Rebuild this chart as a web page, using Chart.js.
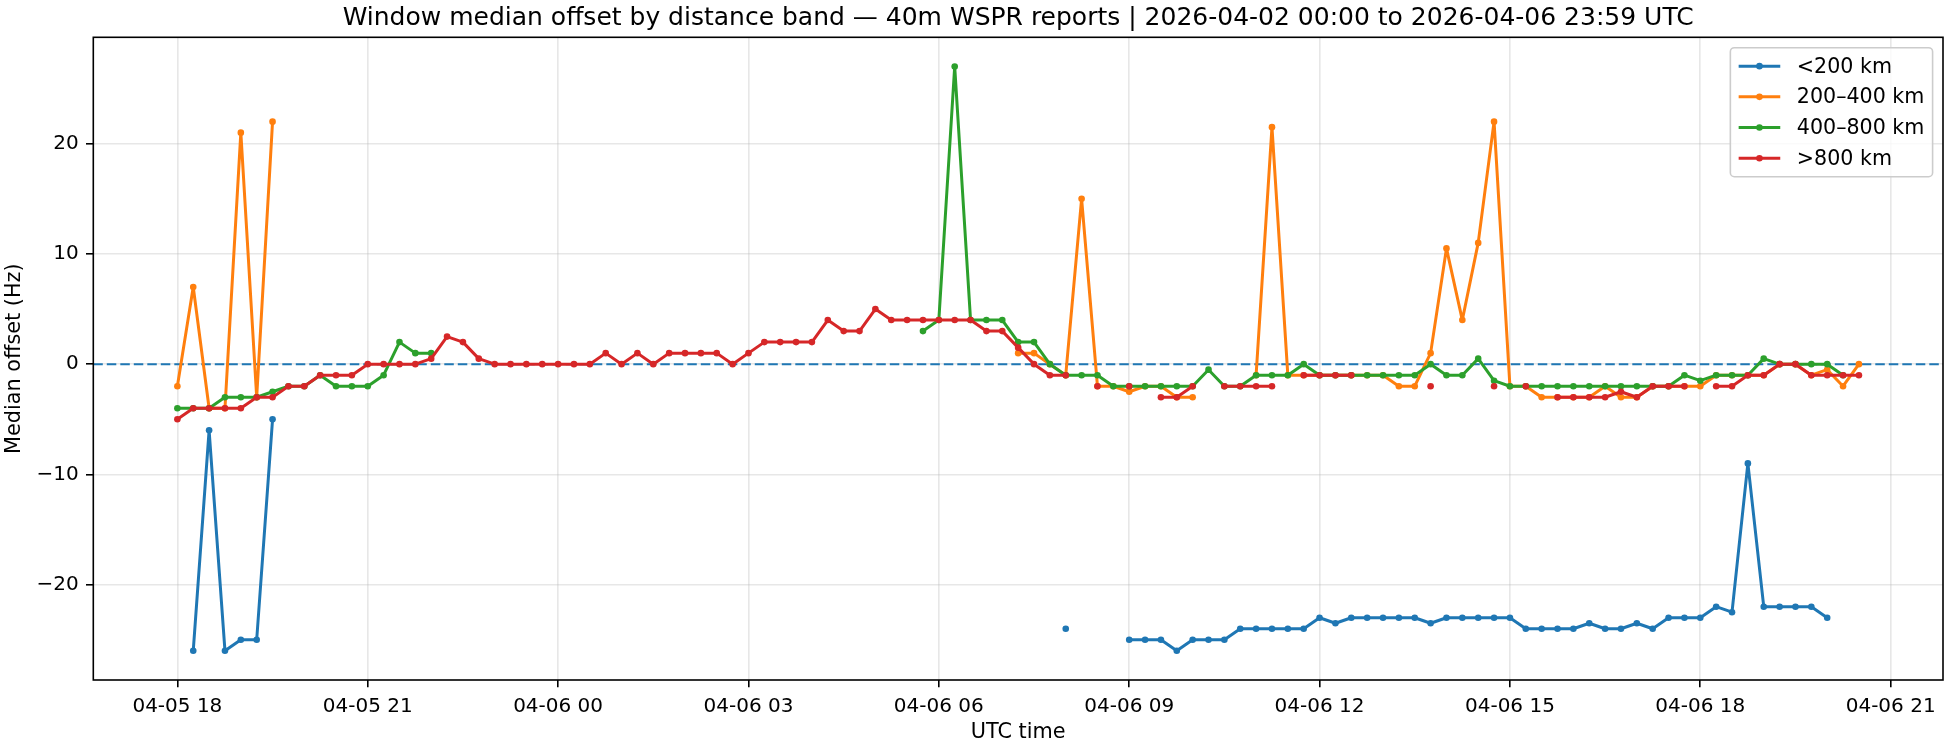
<!DOCTYPE html>
<html>
<head>
<meta charset="utf-8">
<title>Window median offset by distance band</title>
<script src="https://cdn.jsdelivr.net/npm/chart.js@4.4.1/dist/chart.umd.min.js"></script>
<style>
  html, body { margin: 0; padding: 0; background: #fff; }
  #wrap { width: 1950px; height: 750px; }
</style>
</head>
<body>
<div id="wrap"><canvas id="offsetChart" width="1950" height="750"></canvas></div>
<script>
// 15 minute windows starting 04-05 18:00 UTC (hours counted from 04-05 00:00)
const firstWindowHour = 18;
const windowStepHours = 0.25;

const chartTitle = 'Window median offset by distance band \u2014 40m WSPR reports | 2026-04-02 00:00 to 2026-04-06 23:59 UTC';
const xTickHours = [18, 21, 24, 27, 30, 33, 36, 39, 42, 45];
const xTickLabels = ['04-05 18', '04-05 21', '04-06 00', '04-06 03', '04-06 06',
                     '04-06 09', '04-06 12', '04-06 15', '04-06 18', '04-06 21'];
const yTickValues = [-20, -10, 0, 10, 20];
const yTickLabels = ['\u221220', '\u221210', '0', '10', '20'];
const zeroLineHz = 0;

// median offset (Hz) per window, one row = 10 windows
const under200 = [
  null, -26, -6, -26, -25, -25, -5, null, null, null,
  null, null, null, null, null, null, null, null, null, null,
  null, null, null, null, null, null, null, null, null, null,
  null, null, null, null, null, null, null, null, null, null,
  null, null, null, null, null, null, null, null, null, null,
  null, null, null, null, null, null, -24, null, null, null,
  -25, -25, -25, -26, -25, -25, -25, -24, -24, -24,
  -24, -24, -23, -23.5, -23, -23, -23, -23, -23, -23.5,
  -23, -23, -23, -23, -23, -24, -24, -24, -24, -23.5,
  -24, -24, -23.5, -24, -23, -23, -23, -22, -22.5, -9,
  -22, -22, -22, -22, -23, null, null
];
const from200to400 = [
  -2, 7, -4, -4, 21, -3, 22, null, null, null,
  null, null, null, null, null, null, null, null, null, null,
  null, null, null, null, null, null, null, null, null, null,
  null, null, null, null, null, null, null, null, null, null,
  null, null, null, null, null, null, null, null, null, null,
  null, null, null, 1, 1, 0, -1, 15, -2, -2,
  -2.5, -2, -2, -3, -3, null, null, null, -1, 21.5,
  -1, -1, -1, -1, -1, -1, -1, -2, -2, 1,
  10.5, 4, 11, 22, -2, -2, -3, -3, -3, -3,
  -2, -3, -3, -2, -2, -2, -2, -1, -1, -1,
  -1, 0, 0, -1, -0.5, -2, 0
];
const from400to800 = [
  -4, -4, -4, -3, -3, -3, -2.5, -2, -2, -1,
  -2, -2, -2, -1, 2, 1, 1, null, null, null,
  null, null, null, null, null, null, null, null, null, null,
  null, null, null, null, null, null, null, null, null, null,
  null, null, null, null, null, null, null, 3, 4, 27,
  4, 4, 4, 2, 2, 0, -1, -1, -1, -2,
  -2, -2, -2, -2, -2, -0.5, -2, -2, -1, -1,
  -1, 0, -1, -1, -1, -1, -1, -1, -1, 0,
  -1, -1, 0.5, -1.5, -2, -2, -2, -2, -2, -2,
  -2, -2, -2, -2, -2, -1, -1.5, -1, -1, -1,
  0.5, 0, 0, 0, 0, -1, null
];
const over800 = [
  -5, -4, -4, -4, -4, -3, -3, -2, -2, -1,
  -1, -1, 0, 0, 0, 0, 0.5, 2.5, 2, 0.5,
  0, 0, 0, 0, 0, 0, 0, 1, 0, 1,
  0, 1, 1, 1, 1, 0, 1, 2, 2, 2,
  2, 4, 3, 3, 5, 4, 4, 4, 4, 4,
  4, 3, 3, 1.5, 0, -1, -1, null, -2, null,
  -2, null, -3, -3, -2, null, -2, -2, -2, -2,
  null, -1, -1, -1, -1, null, null, null, null, -2,
  null, null, null, -2, null, -2, null, -3, -3, -3,
  -3, -2.5, -3, -2, -2, -2, null, -2, -2, -1,
  -1, 0, 0, -1, -1, -1, -1
];

const xMin = 16.675, xMax = 45.825;
const yMin = -28.65, yMax = 29.65;

function toPoints(values) {
  return values.map((v, i) => ({ x: firstWindowHour + i * windowStepHours, y: v }));
}

function series(label, values, color, order) {
  return {
    label,
    data: toPoints(values),
    borderColor: color,
    backgroundColor: color,
    pointBackgroundColor: color,
    borderWidth: 3,
    pointRadius: 3.3,
    pointBorderWidth: 0,
    pointHoverRadius: 3.3,
    borderJoinStyle: 'round',
    borderCapStyle: 'round',
    tension: 0,
    spanGaps: false,
    order
  };
}

const zeroLinePlugin = {
  id: 'zeroLine',
  beforeDatasetsDraw(chart) {
    const { ctx, chartArea, scales } = chart;
    const y = scales.y.getPixelForValue(zeroLineHz);
    ctx.save();
    ctx.strokeStyle = '#1f77b4';
    ctx.lineWidth = 2;
    ctx.setLineDash([9.5, 4]);
    ctx.beginPath();
    ctx.moveTo(chartArea.left, y);
    ctx.lineTo(chartArea.right, y);
    ctx.stroke();
    ctx.restore();
  }
};

// frame on all four sides, plus the title centred over the plot area
const framePlugin = {
  id: 'frame',
  afterDatasetsDraw(chart) {
    const { ctx, chartArea: a } = chart;
    ctx.save();
    ctx.strokeStyle = '#000';
    ctx.lineWidth = 1.6;
    ctx.strokeRect(a.left, a.top, a.right - a.left, a.bottom - a.top);
    ctx.font = "25px 'DejaVu Sans'";
    ctx.fillStyle = '#000';
    ctx.textAlign = 'center';
    ctx.textBaseline = 'middle';
    ctx.fillText(chartTitle, (a.left + a.right) / 2, a.top - 19);
    ctx.restore();
  }
};

// matplotlib-like legend box in the upper right of the plot
const boxLegendPlugin = {
  id: 'boxLegend',
  afterDraw(chart) {
    const { ctx, chartArea } = chart;
    const sets = chart.data.datasets;
    ctx.save();
    ctx.font = "20.6px 'DejaVu Sans'";
    const textW = Math.max(...sets.map(d => ctx.measureText(d.label).width));
    const pad = 8.3, handle = 41.6, gap = 16.6, rowH = 20.3, spacing = 10.4;
    const w = pad + handle + gap + textW + pad;
    const h = pad * 2 + sets.length * rowH + (sets.length - 1) * spacing;
    const x = chartArea.right - 10.4 - w;
    const y = chartArea.top + 10.4;

    ctx.beginPath();
    if (ctx.roundRect) ctx.roundRect(x, y, w, h, 4); else ctx.rect(x, y, w, h);
    ctx.fillStyle = 'rgba(255,255,255,0.8)';
    ctx.fill();
    ctx.strokeStyle = '#cccccc';
    ctx.lineWidth = 1.6;
    ctx.stroke();

    sets.forEach((d, i) => {
      const cy = y + pad + rowH / 2 + i * (rowH + spacing);
      ctx.strokeStyle = d.borderColor;
      ctx.lineWidth = d.borderWidth;
      ctx.beginPath();
      ctx.moveTo(x + pad, cy);
      ctx.lineTo(x + pad + handle, cy);
      ctx.stroke();
      ctx.fillStyle = d.borderColor;
      ctx.beginPath();
      ctx.arc(x + pad + handle / 2, cy, d.pointRadius, 0, Math.PI * 2);
      ctx.fill();
      ctx.fillStyle = '#000';
      ctx.textAlign = 'left';
      ctx.textBaseline = 'middle';
      ctx.fillText(d.label, x + pad + handle + gap, cy + 1);
    });
    ctx.restore();
  }
};

Chart.defaults.font.family = "'DejaVu Sans', sans-serif";
Chart.defaults.font.size = 20;
Chart.defaults.color = '#000';

const gridStyle = {
  color: 'rgba(176,176,176,0.3)',
  lineWidth: 1.6,
  tickLength: 7.3,
  tickColor: '#000',
  tickWidth: 1.6
};

new Chart(document.getElementById('offsetChart'), {
  type: 'line',
  data: {
    datasets: [
      series('<200 km', under200, '#1f77b4', 4),
      series('200\u2013400 km', from200to400, '#ff7f0e', 3),
      series('400\u2013800 km', from400to800, '#2ca02c', 2),
      series('>800 km', over800, '#d62728', 1)
    ]
  },
  options: {
    responsive: false,
    devicePixelRatio: 1,
    animation: false,
    events: [],
    layout: { padding: { left: 0, right: 7, top: 37.3, bottom: 0 } },
    plugins: {
      legend: { display: false },
      tooltip: { enabled: false },
      title: { display: false }
    },
    scales: {
      x: {
        type: 'linear',
        min: xMin,
        max: xMax,
        afterBuildTicks: axis => { axis.ticks = xTickHours.map(v => ({ value: v })); },
        afterFit: axis => { axis.height = 70; axis.paddingLeft = 0; axis.paddingRight = 0; },
        ticks: {
          autoSkip: false,
          maxRotation: 0,
          padding: 7.3,
          color: '#000',
          callback: v => xTickLabels[xTickHours.indexOf(v)]
        },
        grid: gridStyle,
        border: { display: false },
        title: { display: true, text: 'UTC time', color: '#000', font: { size: 20.8 }, padding: { top: 0, bottom: 5 } }
      },
      y: {
        type: 'linear',
        min: yMin,
        max: yMax,
        afterBuildTicks: axis => { axis.ticks = yTickValues.map(v => ({ value: v })); },
        afterFit: axis => { axis.width = 93.3; axis.paddingTop = 0; axis.paddingBottom = 0; },
        ticks: {
          autoSkip: false,
          padding: 7.3,
          color: '#000',
          callback: v => yTickLabels[yTickValues.indexOf(v)]
        },
        grid: gridStyle,
        border: { display: false },
        title: { display: true, text: 'Median offset (Hz)', color: '#000', font: { size: 20.8 }, padding: { top: 2.5, bottom: 0 } }
      }
    }
  },
  plugins: [zeroLinePlugin, framePlugin, boxLegendPlugin]
});
</script>
</body>
</html>
